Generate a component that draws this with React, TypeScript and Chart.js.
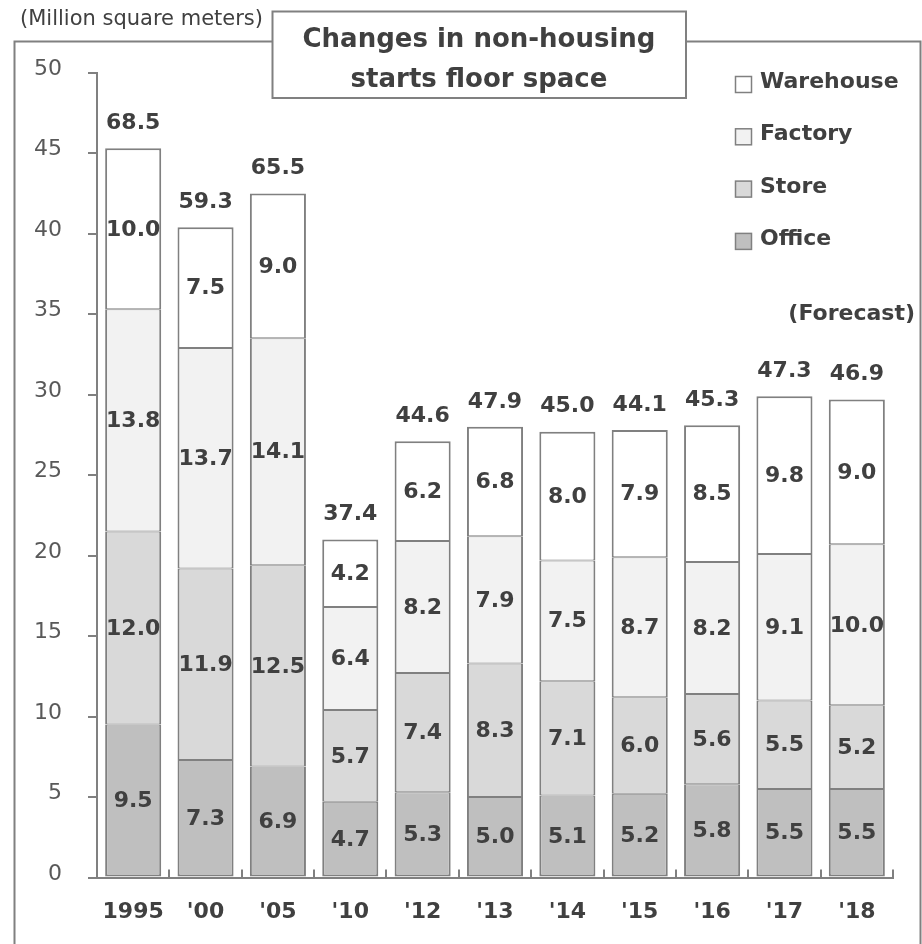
import React, { useEffect, useRef } from "react";
import { Chart, registerables } from "chart.js";

Chart.register(...registerables);

// Categories and series (million square meters)
const years = ["1995", "'00", "'05", "'10", "'12", "'13", "'14", "'15", "'16", "'17", "'18"];
const office = [9.5, 7.3, 6.9, 4.7, 5.3, 5.0, 5.1, 5.2, 5.8, 5.5, 5.5];
const store = [12.0, 11.9, 12.5, 5.7, 7.4, 8.3, 7.1, 6.0, 5.6, 5.5, 5.2];
const factory = [13.8, 13.7, 14.1, 6.4, 8.2, 7.9, 7.5, 8.7, 8.2, 9.1, 10.0];
const warehouse = [10.0, 7.5, 9.0, 4.2, 6.2, 6.8, 8.0, 7.9, 8.5, 9.8, 9.0];
// Overall non-housing totals printed above each column
const totals = [68.5, 59.3, 65.5, 37.4, 44.6, 47.9, 45.0, 44.1, 45.3, 47.3, 46.9];

const yMin = 0;
const yMax = 50;
const yStep = 5;

const titleLines = ["Changes in non-housing", "starts floor space"];
const unitText = "(Million square meters)";
const forecastText = "(Forecast)";

const FONT = '"DejaVu Sans", Verdana, sans-serif';
const INK = "#404040";
const EDGE = "#808080";
const W = 922;
const H = 944;

const seriesStyle = [
  { label: "Office", data: office, fill: "#bfbfbf" },
  { label: "Store", data: store, fill: "#d9d9d9" },
  { label: "Factory", data: factory, fill: "#f2f2f2" },
  { label: "Warehouse", data: warehouse, fill: "#ffffff" },
];

const decorPlugin = {
  id: "decor",
  beforeDraw(chart: any) {
    const { ctx } = chart;
    ctx.save();
    ctx.fillStyle = "#ffffff";
    ctx.fillRect(0, 0, W, H);
    // outer frame
    ctx.strokeStyle = EDGE;
    ctx.lineWidth = 2;
    ctx.strokeRect(14.5, 41.5, 906, 940);
    // unit caption
    ctx.fillStyle = INK;
    ctx.font = `21px ${FONT}`;
    ctx.textAlign = "left";
    ctx.textBaseline = "alphabetic";
    ctx.fillText(unitText, 20, 25);
    ctx.restore();
  },
  afterDatasetsDraw(chart: any) {
    const { ctx } = chart;
    ctx.save();
    ctx.font = `bold 22px ${FONT}`;
    ctx.fillStyle = INK;
    ctx.textAlign = "center";
    ctx.textBaseline = "middle";
    chart.data.datasets.forEach((ds: any, di: number) => {
      const meta = chart.getDatasetMeta(di);
      meta.data.forEach((bar: any, i: number) => {
        const { x, y, base } = bar.getProps(["x", "y", "base"], true);
        ctx.fillText(Number(ds.data[i]).toFixed(1), x, (y + base) / 2 + 1);
      });
    });
    const topMeta = chart.getDatasetMeta(chart.data.datasets.length - 1);
    topMeta.data.forEach((bar: any, i: number) => {
      const { x, y } = bar.getProps(["x", "y"], true);
      ctx.fillText(totals[i].toFixed(1), x, y - 25);
    });
    ctx.restore();
  },
  afterDraw(chart: any) {
    const { ctx } = chart;
    ctx.save();
    // title box
    ctx.fillStyle = "#ffffff";
    ctx.fillRect(272.5, 11.5, 413.5, 86.5);
    ctx.strokeStyle = EDGE;
    ctx.lineWidth = 2;
    ctx.strokeRect(272.5, 11.5, 413.5, 86.5);
    ctx.fillStyle = INK;
    ctx.font = `bold 26px ${FONT}`;
    ctx.textAlign = "center";
    ctx.textBaseline = "alphabetic";
    ctx.fillText(titleLines[0], 479, 46.5);
    ctx.fillText(titleLines[1], 479, 87);

    // legend (top series first)
    ctx.font = `bold 22px ${FONT}`;
    ctx.textAlign = "left";
    const order = [...seriesStyle].reverse();
    order.forEach((s, k) => {
      const baseY = 88 + k * 52.3;
      ctx.fillStyle = s.fill;
      ctx.fillRect(735.5, baseY - 11.5, 16, 16);
      ctx.strokeStyle = EDGE;
      ctx.lineWidth = 1.5;
      ctx.strokeRect(735.5, baseY - 11.5, 16, 16);
      ctx.fillStyle = INK;
      ctx.fillText(s.label, 760, baseY);
    });

    // forecast note
    ctx.textAlign = "right";
    ctx.fillText(forecastText, 915, 320);
    ctx.restore();
  },
};

export default function App() {
  const canvasRef = useRef<HTMLCanvasElement | null>(null);

  useEffect(() => {
    const canvas = canvasRef.current;
    if (!canvas) return;
    Chart.defaults.font.family = FONT;

    const chart = new Chart(canvas, {
      type: "bar",
      data: {
        labels: years,
        datasets: seriesStyle.map((s, idx) => ({
          label: s.label,
          data: s.data,
          backgroundColor: s.fill,
          borderColor: EDGE,
          borderWidth: {
            top: idx === seriesStyle.length - 1 ? 2 : 1,
            bottom: idx === 0 ? 2 : 1,
            left: 2,
            right: 2,
          },
          borderSkipped: false,
          inflateAmount: 0,
          barPercentage: 0.775,
          categoryPercentage: 1.0,
        })),
      },
      options: {
        responsive: false,
        animation: false,
        events: [],
        layout: { padding: { top: 72.7, right: 29, bottom: 0, left: 0 } },
        plugins: {
          legend: { display: false },
          tooltip: { enabled: false },
          title: { display: false },
        },
        scales: {
          x: {
            stacked: true,
            offset: true,
            grid: {
              display: true,
              drawOnChartArea: false,
              drawTicks: true,
              tickLength: -8,
              offset: true,
              color: EDGE,
              lineWidth: 2,
            },
            border: { display: true, color: EDGE, width: 2 },
            ticks: {
              color: INK,
              font: { family: FONT, size: 22, weight: "bold" },
              padding: 30,
              maxRotation: 0,
              autoSkip: false,
            },
            afterFit: (scale: any) => {
              scale.height = H - 877.5;
            },
          },
          y: {
            stacked: true,
            min: yMin,
            max: yMax,
            grid: {
              display: true,
              drawOnChartArea: false,
              drawTicks: true,
              tickLength: 9,
              color: EDGE,
              lineWidth: 2,
            },
            border: { display: true, color: EDGE, width: 2 },
            ticks: {
              stepSize: yStep,
              color: "#595959",
              font: { family: FONT, size: 22 },
              padding: 26,
              labelOffset: -3.5,
            },
            afterFit: (scale: any) => {
              scale.width = 97;
            },
          },
        },
      },
      plugins: [decorPlugin],
    } as any);

    return () => {
      chart.destroy();
    };
  }, []);

  return (
    <div style={{ position: "absolute", left: 0, top: 0, width: W, height: H, background: "#fff" }}>
      <canvas ref={canvasRef} width={W} height={H} style={{ display: "block" }} />
    </div>
  );
}
